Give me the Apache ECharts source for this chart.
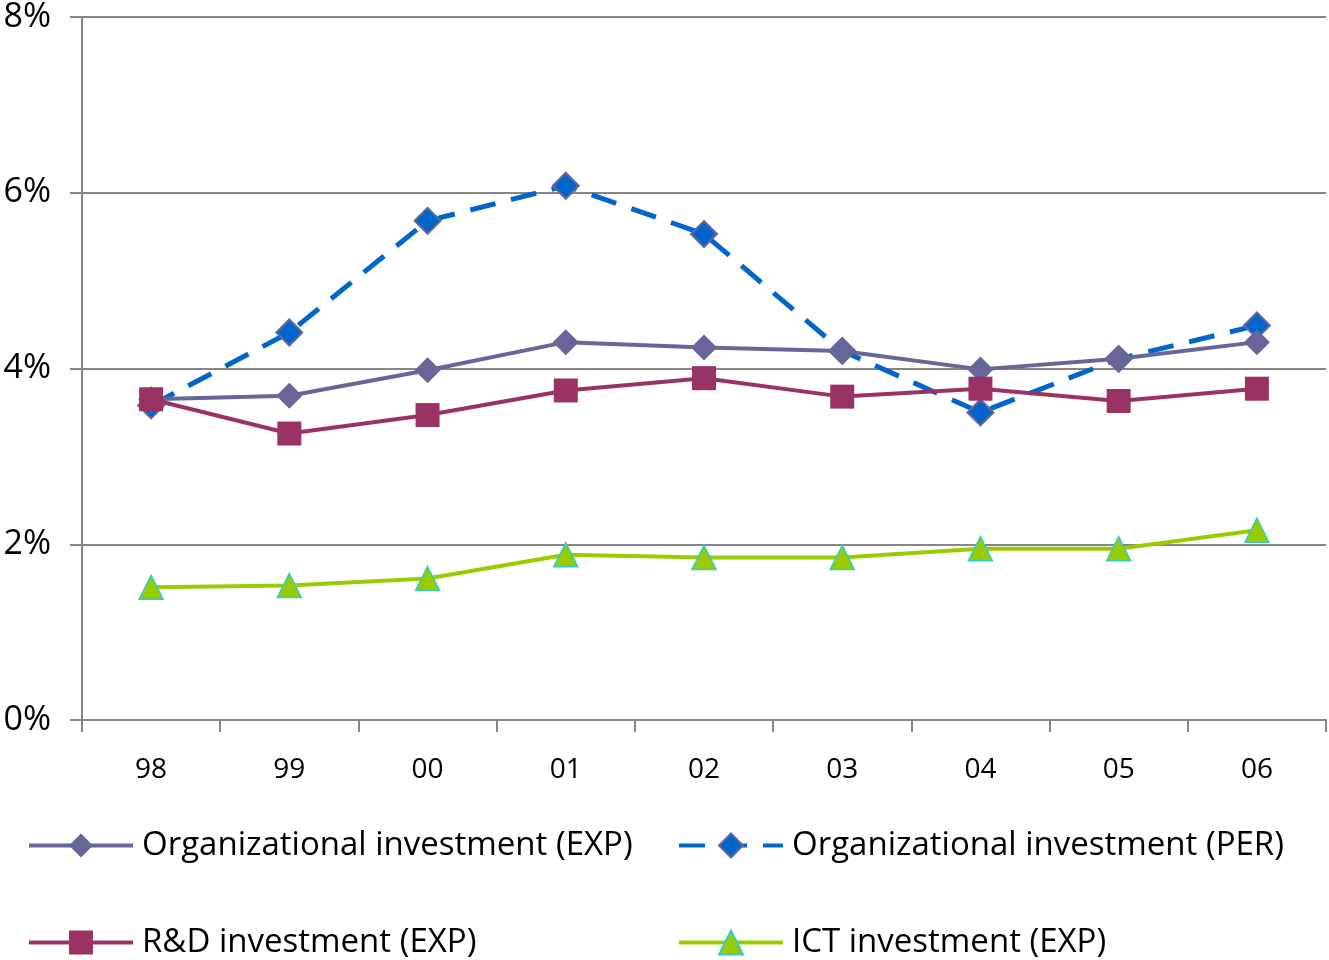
<!DOCTYPE html>
<html>
<head>
<meta charset="utf-8">
<script src="https://cdn.jsdelivr.net/npm/echarts@6/dist/echarts.min.js"></script>
<style>
  html, body { margin: 0; padding: 0; background: #fff; }
  #chart { width: 1329px; height: 960px; }
</style>
</head>
<body>
<div id="chart"></div>
<script>
var years = ["98", "99", "00", "01", "02", "03", "04", "05", "06"];
var orgExp = [3.65, 3.69, 3.98, 4.30, 4.24, 4.20, 3.99, 4.11, 4.30];
var orgPer = [3.58, 4.41, 5.68, 6.08, 5.53, 4.20, 3.50, 4.11, 4.49];
var rdExp = [3.65, 3.26, 3.47, 3.75, 3.89, 3.68, 3.77, 3.63, 3.77];
var ictExp = [1.51, 1.53, 1.61, 1.88, 1.85, 1.85, 1.95, 1.95, 2.16];

var FONT = "'Open Sans', Lato, sans-serif";
var chart = echarts.init(document.getElementById("chart"));

function legendAt(name, left, top) {
  return {
    data: [name],
    left: left,
    top: top,
    itemWidth: 104,
    itemHeight: 30,
    itemGap: 0,
    lineStyle: { width: 4 },
    textStyle: { fontFamily: FONT, fontSize: 33, color: "#000", padding: [0, 0, 0, 4] }
  };
}

chart.setOption({
  animation: false,
  grid: { left: 82, right: 3, top: 16, bottom: 240, containLabel: false },
  legend: [
    legendAt("Organizational investment (EXP)", 22, 824),
    legendAt("Organizational investment (PER)", 672, 824),
    legendAt("R&D investment (EXP)", 22, 921),
    legendAt("ICT investment (EXP)", 672, 921)
  ],
  xAxis: {
    type: "category",
    data: years,
    boundaryGap: true,
    axisLine: { lineStyle: { color: "#868686", width: 2 } },
    axisTick: { show: true, length: 12, lineStyle: { color: "#868686", width: 2 } },
    axisLabel: { fontFamily: FONT, fontSize: 28, color: "#000", margin: 36 }
  },
  yAxis: {
    type: "value",
    min: 0,
    max: 8,
    interval: 2,
    axisLine: { show: true, lineStyle: { color: "#868686", width: 2 } },
    axisTick: { show: true, length: 12, lineStyle: { color: "#868686", width: 2 } },
    axisLabel: { fontFamily: FONT, fontSize: 34, color: "#000", margin: 31, formatter: "{value}%" },
    splitLine: { lineStyle: { color: "#868686", width: 2 } }
  },
  series: [
    {
      name: "Organizational investment (EXP)",
      type: "line",
      data: orgExp,
      symbol: "diamond",
      symbolSize: 26,
      lineStyle: { color: "#666699", width: 4 },
      itemStyle: { color: "#666699" },
      z: 3
    },
    {
      name: "Organizational investment (PER)",
      type: "line",
      data: orgPer,
      symbol: "diamond",
      symbolSize: 26,
      lineStyle: { color: "#0066CC", width: 5, type: [26, 16] },
      itemStyle: { color: "#0066CC", borderColor: "#666699", borderWidth: 2 },
      z: 2
    },
    {
      name: "R&D investment (EXP)",
      type: "line",
      data: rdExp,
      symbol: "rect",
      symbolSize: 24,
      lineStyle: { color: "#993366", width: 4 },
      itemStyle: { color: "#993366" },
      z: 4
    },
    {
      name: "ICT investment (EXP)",
      type: "line",
      data: ictExp,
      symbol: "triangle",
      symbolSize: 24,
      lineStyle: { color: "#99CC00", width: 4 },
      itemStyle: { color: "#99CC00", borderColor: "#33CCCC", borderWidth: 1.5 },
      z: 4
    }
  ]
});
</script>
</body>
</html>
